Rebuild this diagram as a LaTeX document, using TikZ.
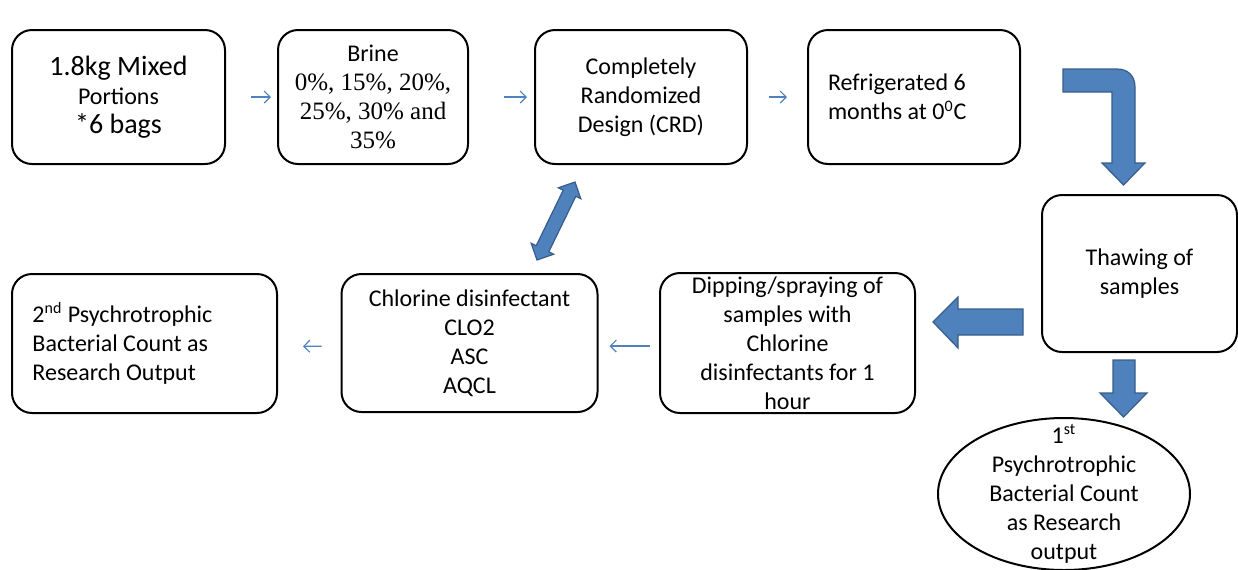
\documentclass[tikz,border=0pt]{standalone}
\usepackage{fontspec}
\usepackage{xcolor}
\setmainfont{Carlito}
\newfontfamily\brinefont{Liberation Serif}
\usetikzlibrary{shapes.geometric, arrows.meta}
\definecolor{flow-blue}{HTML}{4F81BD}
\definecolor{flow-edge}{HTML}{385D8A}
\tikzset{
    step-box/.style = {draw=black, fill=white, line width=1pt, rectangle, rounded corners=10pt, align=center, inner sep=0pt, font=\fontsize{12}{14.5}\selectfont},
    result-oval/.style = {draw=black, fill=white, line width=1pt, ellipse, align=center, inner xsep=0pt, inner ysep=-8pt, font=\fontsize{12}{14.5}\selectfont},
    thin-arrow/.style = {draw=flow-blue, line width=0.6pt, -{Straight Barb[length=3pt, width=6pt]}},
    block-arrow/.style = {fill=flow-blue, draw=flow-edge, line width=0.6pt},
}

\begin{document}
\begin{tikzpicture}[x=0.5pt, y=-0.5pt]
\useasboundingbox (0,0) rectangle (1238,569);

% top row
\node [step-box, minimum width=106.5pt, minimum height=67pt] (mix) at (118.5,97)
    {{\fontsize{14}{15}\selectfont 1.8kg Mixed}\\ Portions\\ {\fontsize{14}{15}\selectfont *6 bags}};
\node [step-box, minimum width=95pt, minimum height=67pt] (brine) at (373,97)
    {Brine\\ {\brinefont\fontsize{12.5}{15}\selectfont 0\%, 15\%, 20\%,}\\ {\brinefont\fontsize{12.5}{15}\selectfont 25\%, 30\% and}\\ {\brinefont\fontsize{12.5}{15}\selectfont 35\%}};
\node [step-box, minimum width=106pt, minimum height=67pt] (crd) at (641,97)
    {Completely\\ Randomized\\ Design (CRD)};
\node [step-box, minimum width=106pt, minimum height=67pt, text width=86pt, align=flush left] (fridge) at (914,97)
    {Refrigerated 6\\ months at 0\textsuperscript{0}C};

% right column
\node [step-box, minimum width=97.5pt, minimum height=78.5pt] (thaw) at (1139.5,273.5)
    {Thawing of\\ samples};
\node [result-oval, minimum width=126pt, minimum height=76pt] (count1) at (1064,494)
    {1\textsuperscript{st}\\ Psychrotrophic\\ Bacterial Count\\ as Research\\ output};

% bottom row
\node [step-box, minimum width=127.5pt, minimum height=70pt] (dip) at (787.5,343)
    {Dipping/spraying of\\ samples with\\ Chlorine\\ disinfectants for 1\\ hour};
\node [step-box, minimum width=128pt, minimum height=69pt] (chlor) at (469.5,343)
    {Chlorine disinfectant\\ CLO2\\ ASC\\ AQCL};
\node [step-box, minimum width=132.5pt, minimum height=69.5pt, text width=112pt, align=flush left] (count2) at (144.5,343.5)
    {2\textsuperscript{nd} Psychrotrophic\\ Bacterial Count as\\ Research Output};

% thin arrows
\draw [thin-arrow, shorten <=12.5pt, shorten >=3pt] (mix.east) -- (brine.west);
\draw [thin-arrow, shorten <=17.5pt, shorten >=3.5pt] (brine.east) -- (crd.west);
\draw [thin-arrow, shorten <=10.5pt, shorten >=10pt] (crd.east) -- (fridge.west);
\draw [thin-arrow, shorten <=4.5pt, shorten >=5.5pt] ([yshift=-1.5pt]dip.west) -- ([yshift=-1.5pt]chlor.east);
\draw [thin-arrow, shorten <=9.5pt, shorten >=12.5pt] ([yshift=-1.5pt]chlor.west) -- ([yshift=-1.5pt]count2.east);

% block arrows
\draw [block-arrow] (1063,69) -- (1117,69) .. controls (1128,69) and (1135,76) .. (1135,87) -- (1135,163) -- (1145,163) -- (1123.5,185) -- (1102,163) -- (1112,163) -- (1112,92) -- (1063,92) -- cycle;
\draw [block-arrow] (1023,309) -- (958,309) -- (958,297) -- (933,322) -- (958,348) -- (958,335) -- (1023,335) -- cycle;
\draw [block-arrow] (1113,360) -- (1135,360) -- (1135,393) -- (1147,393) -- (1123.5,417) -- (1100,393) -- (1113,393) -- cycle;
\draw [block-arrow] (537,260) -- (553.7,254.2) -- (548.8,251.8) -- (575.8,196.3) -- (580.8,198.7) -- (575,182) -- (558.3,187.8) -- (563.2,190.2) -- (536.2,245.7) -- (531.2,243.3) -- cycle;
\end{tikzpicture}
\end{document}
